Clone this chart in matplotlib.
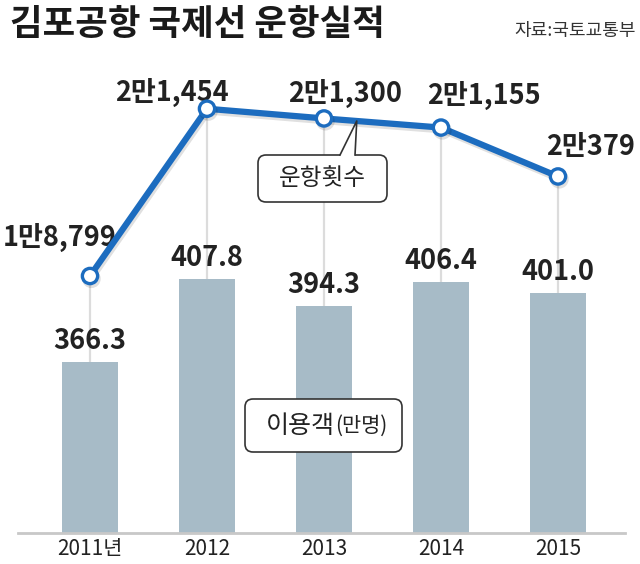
import matplotlib
matplotlib.use("Agg")
import matplotlib.pyplot as plt
import matplotlib.patheffects as pe
from matplotlib.patches import FancyBboxPatch, Polygon
from matplotlib.lines import Line2D
from matplotlib.transforms import IdentityTransform

plt.rcParams['font.family'] = ['Noto Sans CJK KR', 'DejaVu Sans']

# ------------- Data ---------------
years = ['2011년', '2012', '2013', '2014', '2015']
passengers = [366.3, 407.8, 394.3, 406.4, 401.0]      # 이용객 (만명)
flights = [18799, 21454, 21300, 21155, 20379]         # 운항횟수
flight_labels = ['1만8,799', '2만1,454', '2만1,300', '2만1,155', '2만379']
label_offsets = [(-30, 39), (-35, 16), (21, 25), (43, 32), (33, 29)]

BAR_COLOR = '#a7bbc7'
LINE_COLOR = '#1c6cbf'
W, H = 640, 564

fig = plt.figure(figsize=(W / 100, H / 100), dpi=100)


def px(x, y):
	# image pixel (top-left origin) -> display coords
	return x, H - y


# line axes (below) and bar axes (above), baseline at y=533 px
base_y = 533
pos = [0, (H - base_y) / H, 1, base_y / H]
ax2 = fig.add_axes(pos)
ax = fig.add_axes(pos, sharex=ax2)
ax2.set_zorder(1)
ax.set_zorder(2)
x = list(range(len(years)))
ax.set_xlim(-90 / 117, (W - 90) / 117)

ax.set_ylim(280.8, 280.8 + base_y / 2)
ax.patch.set_visible(False)
ax.bar(x, passengers, width=0.48, color=BAR_COLOR, zorder=2)
for i, v in enumerate(passengers):
	ax.annotate(f'{v:.1f}', (i, v), xytext=(0, 21), textcoords='offset pixels',
		ha='center', va='center', fontsize=19.5, fontweight='bold', color='#222222')
ax.axis('off')

ax2.set_ylim(18799 - (base_y - 276) / 0.063, 18799 + 276 / 0.063)
ax2.axis('off')
ax2.vlines(x, ax2.get_ylim()[0], flights, color='#dcdcdc', lw=1.6, zorder=1)
ax2.plot(x, flights, color=LINE_COLOR, lw=4.5, marker='o', ms=11,
	mfc='white', mec=LINE_COLOR, mew=2.4, zorder=5,
	path_effects=[pe.SimpleLineShadow(offset=(1, -2), alpha=0.12), pe.Normal()])
for i, (v, lab) in enumerate(zip(flights, flight_labels)):
	ax2.annotate(lab, (i, v), xytext=label_offsets[i], textcoords='offset pixels',
		ha='center', va='center', fontsize=19.5, fontweight='bold', color='#222222')

# baseline
fig.add_artist(Line2D([18, 625], [H - base_y, H - base_y],
	transform=IdentityTransform(), color='#c8c8c8', lw=2, zorder=3))

# year labels
for i, yr in enumerate(years):
	ax.annotate(yr, (i, ax.get_ylim()[0]), xytext=(0, -16), textcoords='offset pixels',
		ha='center', va='center', fontsize=15, color='#222222', annotation_clip=False)

# title and source
fig.text(10 / W, 1 - 25 / H, '김포공항 국제선 운항실적', fontsize=25.5, fontweight='bold',
	ha='left', va='center', color='#1a1a1a')
fig.text(636 / W, 1 - 31 / H, '자료:국토교통부', fontsize=13, ha='right', va='center',
	color='#333333')

# callout box 운항횟수
tip_x = 2.28
tip_y = flights[2] + (flights[3] - flights[2]) * 0.28
tip = ax2.transData.transform((tip_x, tip_y))
box1 = FancyBboxPatch(px(258, 202), 129, 47, boxstyle='round,pad=0,rounding_size=8',
	transform=IdentityTransform(), fc='white', ec='#333333', lw=1.2, zorder=6)
fig.add_artist(box1)
fig.add_artist(Polygon([px(340, 156), (tip[0], tip[1]), px(355, 156)], closed=True,
	transform=IdentityTransform(), fc='white', ec='none', zorder=7))
fig.add_artist(Line2D([px(340, 155)[0], tip[0], px(355, 155)[0]],
	[px(340, 155)[1], tip[1], px(355, 155)[1]],
	transform=IdentityTransform(), color='#333333', lw=1.2, zorder=8))
fig.text(322 / W, 1 - 179 / H, '운항횟수', fontsize=17, ha='center', va='center',
	color='#222222', zorder=9)

# box 이용객(만명)
box2 = FancyBboxPatch(px(245, 452), 157, 53, boxstyle='round,pad=0,rounding_size=8',
	transform=IdentityTransform(), fc='white', ec='#333333', lw=1.2, zorder=6)
fig.add_artist(box2)
fig.text(335 / W, 1 - 426 / H, '이용객', fontsize=18, ha='right', va='center',
	color='#222222', zorder=9)
fig.text(335 / W, 1 - 426 / H, '(만명)', fontsize=15, ha='left', va='center',
	color='#222222', zorder=9)

fig.savefig('out.png', dpi=100)
